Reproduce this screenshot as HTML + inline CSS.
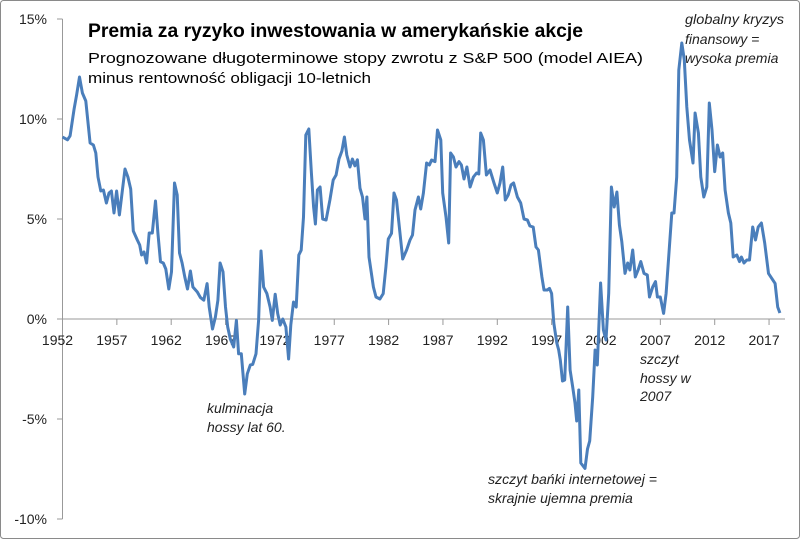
<!DOCTYPE html>
<html><head><meta charset="utf-8"><style>
html,body{margin:0;padding:0;background:#fff;}
svg{display:block;font-family:"Liberation Sans",sans-serif;}
</style></head><body>
<svg width="800" height="539" viewBox="0 0 800 539">
<rect x="0.5" y="0.5" width="799" height="538" rx="3" fill="#fff" stroke="#8a8a8a"/>
<g id="axes"></g>
<path id="line" fill="none" stroke="#4a7ebb" stroke-width="3" stroke-linejoin="round"/>
<text x="88" y="37" font-size="19" font-weight="bold" textLength="495" lengthAdjust="spacingAndGlyphs">Premia za ryzyko inwestowania w amerykańskie akcje</text>
<text x="88" y="63" font-size="15" textLength="555" lengthAdjust="spacingAndGlyphs">Prognozowane długoterminowe stopy zwrotu z S&amp;P 500 (model  AIEA)</text>
<text x="88" y="83" font-size="15" textLength="283" lengthAdjust="spacingAndGlyphs">minus rentowność obligacji 10-letnich</text>
<g font-size="14" font-style="italic" fill="#222">
<text><tspan x="685" y="24" textLength="99" lengthAdjust="spacingAndGlyphs">globalny kryzys</tspan><tspan x="685" y="44">finansowy =</tspan><tspan x="685" y="63">wysoka premia</tspan></text>
<text><tspan x="640" y="364">szczyt</tspan><tspan x="640" y="383">hossy w</tspan><tspan x="640" y="401">2007</tspan></text>
<text><tspan x="207" y="413">kulminacja</tspan><tspan x="207" y="432">hossy lat 60.</tspan></text>
<text><tspan x="488" y="484" textLength="169" lengthAdjust="spacingAndGlyphs">szczyt bańki internetowej =</tspan><tspan x="488" y="503">skrajnie ujemna premia</tspan></text>
</g>
</svg>
<script>
const years=[1952,1952.46,1952.7,1953.07,1953.3,1953.56,1953.83,1954.14,1954.54,1954.84,1955.06,1955.27,1955.52,1955.76,1956.04,1956.28,1956.5,1956.74,1956.98,1957.23,1957.5,1957.75,1958.02,1958.27,1958.51,1958.88,1959.1,1959.28,1959.5,1959.74,1959.98,1960.26,1960.56,1960.78,1961.02,1961.27,1961.5,1961.78,1962.03,1962.3,1962.55,1962.76,1963.0,1963.25,1963.5,1963.77,1964.0,1964.4,1964.7,1965.0,1965.3,1965.5,1965.8,1966.07,1966.3,1966.5,1966.77,1967.0,1967.2,1967.44,1967.75,1968.0,1968.2,1968.45,1968.76,1969.0,1969.28,1969.5,1969.8,1970.04,1970.26,1970.5,1970.8,1971.1,1971.3,1971.57,1971.8,1972.03,1972.27,1972.55,1972.8,1973.0,1973.25,1973.5,1973.74,1973.96,1974.17,1974.38,1974.66,1974.9,1975.1,1975.27,1975.45,1975.7,1975.94,1976.25,1976.6,1976.9,1977.17,1977.44,1977.7,1977.93,1978.15,1978.45,1978.67,1978.9,1979.13,1979.37,1979.6,1979.83,1980.0,1980.2,1980.6,1980.84,1981.2,1981.5,1981.75,1981.97,1982.27,1982.5,1982.73,1983.3,1983.66,1983.97,1984.2,1984.43,1984.74,1984.95,1985.2,1985.5,1985.75,1985.96,1986.27,1986.5,1986.8,1986.98,1987.28,1987.53,1987.7,1987.96,1988.2,1988.48,1988.7,1988.94,1989.2,1989.5,1989.8,1990.1,1990.3,1990.47,1990.72,1991.0,1991.33,1991.7,1992.0,1992.25,1992.5,1992.74,1993.0,1993.26,1993.5,1993.85,1994.15,1994.46,1994.77,1995.0,1995.3,1995.56,1995.78,1996.1,1996.3,1996.6,1996.8,1997.0,1997.2,1997.47,1997.65,1997.8,1998.0,1998.2,1998.48,1998.7,1998.94,1999.15,1999.3,1999.5,1999.68,2000.07,2000.3,2000.5,2000.78,2001.0,2001.2,2001.5,2001.76,2002.0,2002.25,2002.5,2002.75,2003.0,2003.23,2003.45,2003.75,2004.0,2004.2,2004.46,2004.7,2004.95,2005.2,2005.5,2005.8,2006.0,2006.3,2006.55,2006.73,2007.0,2007.3,2007.53,2007.83,2008.05,2008.26,2008.5,2008.7,2008.97,2009.2,2009.43,2009.68,2010.0,2010.2,2010.5,2010.72,2011.0,2011.27,2011.5,2011.75,2012.0,2012.25,2012.5,2012.74,2012.96,2013.26,2013.48,2013.7,2014.03,2014.28,2014.46,2014.7,2014.95,2015.2,2015.5,2015.75,2016.0,2016.3,2016.6,2016.95,2017.25,2017.56,2017.8,2018.0];
const premium=[9.1,8.96,9.16,10.5,11.2,12.1,11.3,10.9,8.8,8.7,8.3,7.1,6.4,6.45,5.8,6.3,6.4,5.3,6.4,5.2,6.4,7.5,7.1,6.5,4.4,3.95,3.7,3.2,3.35,2.8,4.3,4.3,5.9,4.3,2.86,2.8,2.5,1.5,2.36,6.8,6.2,3.3,2.8,2.1,1.5,2.4,1.6,1.35,1.07,0.94,1.77,0.6,-0.5,0.1,0.94,2.8,2.36,0.6,-0.4,-1.0,-1.4,-0.07,-1.74,-1.74,-3.75,-2.74,-2.3,-2.27,-1.74,-0.07,3.4,1.6,1.27,0.6,-0.07,1.24,0.27,-0.3,0.0,-0.4,-2.0,-0.3,0.85,0.6,3.2,3.44,5.1,9.2,9.5,7.3,5.6,4.75,6.45,6.6,5.0,4.95,5.95,6.95,7.2,8.0,8.4,9.1,8.2,7.6,8.0,7.66,7.96,6.54,6.1,5.0,6.1,3.1,1.6,1.1,1.0,1.27,2.6,4.0,4.28,6.3,5.95,3.0,3.45,3.95,4.2,5.45,6.1,5.5,6.3,7.8,7.7,7.95,7.87,9.45,8.95,6.3,5.1,3.8,8.3,8.1,7.6,7.87,7.7,7.0,7.6,6.6,7.1,7.3,7.25,9.3,8.95,7.2,7.45,6.8,6.3,6.8,7.6,5.95,6.2,6.7,6.8,6.1,5.8,5.0,4.95,4.65,4.6,3.6,3.45,2.1,1.45,1.45,1.53,1.28,-0.2,-1.2,-1.55,-2.05,-3.1,-3.05,0.6,-2.55,-3.4,-4.2,-5.1,-3.55,-7.2,-7.47,-6.5,-6.1,-3.9,-1.55,-2.3,1.8,-0.55,-1.05,1.28,6.6,5.6,6.35,4.7,3.87,2.28,2.8,2.45,3.45,2.1,2.45,2.87,2.28,2.2,1.1,1.6,1.87,1.1,1.1,0.28,1.28,3.6,5.3,5.3,7.1,12.45,13.8,12.95,10.6,8.95,7.8,10.3,9.3,7.1,6.1,6.6,10.8,9.45,7.37,8.7,8.1,8.3,6.45,5.3,4.8,3.1,3.2,2.87,3.1,2.8,2.95,2.95,4.6,3.95,4.6,4.8,3.8,2.28,2.03,1.78,0.6,0.3];
const yTicks=[15,10,5,0,-5,-10];
const xTicks=[1952,1957,1962,1967,1972,1977,1982,1987,1992,1997,2002,2007,2012,2017];
const X=y=>62.5+(y-1952)*10.87;
const Y=v=>319-v*20;
const NS="http://www.w3.org/2000/svg";
const axes=document.getElementById('axes');
function mk(t,a){const e=document.createElementNS(NS,t);for(const k in a)e.setAttribute(k,a[k]);axes.appendChild(e);return e;}
const ya=mk('line',{x1:62.5,y1:Y(15),x2:62.5,y2:Y(-10),stroke:'#999'});


yTicks.forEach(v=>{
  const t=mk('line',{x1:57,y1:Y(v),x2:62.5,y2:Y(v),stroke:'#999'});
  
  
  const l=mk('text',{x:47,y:Y(v)+5,'font-size':14,'text-anchor':'end',fill:'#222'});
  l.textContent=v+'%';
  
  
});
const xa=mk('line',{x1:62.5,y1:Y(0),x2:785,y2:Y(0),stroke:'#999'});


xTicks.forEach(yr=>{
  const t=mk('line',{x1:X(yr),y1:Y(0),x2:X(yr),y2:Y(0)+6,stroke:'#999'});
  
  
  const l=mk('text',{x:X(yr)-5,y:Y(0)+26,'font-size':14,'text-anchor':'middle',fill:'#222'});
  l.textContent=yr;
  
  
});
document.getElementById('line').setAttribute('d',years.map((y,i)=>(i?'L':'M')+X(y).toFixed(1)+','+Y(premium[i]).toFixed(1)).join(''));
</script>
</body></html>
